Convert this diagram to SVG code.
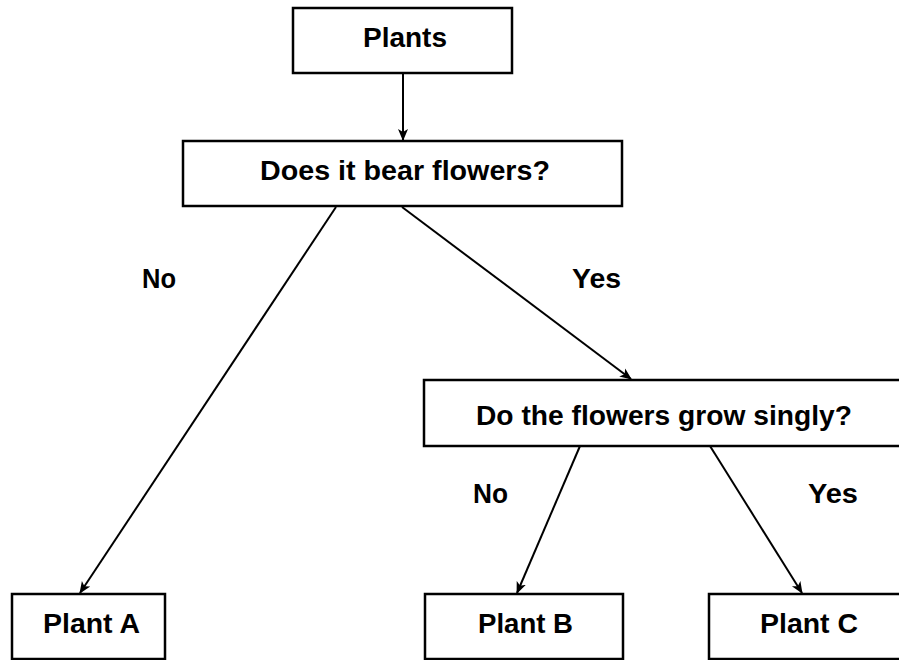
<svg xmlns="http://www.w3.org/2000/svg" width="899" height="660" viewBox="0 0 899 660">
<defs>
<marker id="ah" viewBox="0 0 12 12" refX="11" refY="6" markerWidth="12" markerHeight="12" markerUnits="userSpaceOnUse" orient="auto">
<path d="M0,1 L12,6 L0,11 L3,6 Z" fill="#000"/>
</marker>
</defs>
<style>
.box{fill:#fff;stroke:#000;stroke-width:2.5}
.t{font-family:"Liberation Sans",Arial,sans-serif;font-weight:bold;font-size:27px;fill:#000}
.c{text-anchor:middle}
.ln{stroke:#000;stroke-width:2;fill:none;marker-end:url(#ah)}
</style>
<rect width="899" height="660" fill="#fff"/>
<g id="connectors">
<line class="ln" x1="403" y1="73" x2="403" y2="140"/>
<line class="ln" x1="336" y1="207" x2="80" y2="593"/>
<line class="ln" x1="402" y1="207" x2="631" y2="379"/>
<line class="ln" x1="580" y1="446" x2="517" y2="593"/>
<line class="ln" x1="710" y1="446" x2="802" y2="593"/>
<text class="t" x="142" y="288" textLength="34" lengthAdjust="spacingAndGlyphs">No</text>
<text class="t" x="572" y="288" textLength="49" lengthAdjust="spacingAndGlyphs">Yes</text>
<text class="t" x="473" y="503" textLength="35" lengthAdjust="spacingAndGlyphs">No</text>
<text class="t" x="808" y="503" textLength="50" lengthAdjust="spacingAndGlyphs">Yes</text>
</g>
<g id="plants">
<rect class="box" x="293" y="8" width="219" height="65"/>
<text class="t" x="363" y="47" textLength="84" lengthAdjust="spacingAndGlyphs">Plants</text>
</g>
<g id="flowers">
<rect class="box" x="183" y="141" width="439" height="65"/>
<text class="t" x="260" y="180" textLength="290" lengthAdjust="spacingAndGlyphs">Does it bear flowers?</text>
</g>
<g id="singly">
<rect class="box" x="424" y="380" width="490" height="66"/>
<text class="t" x="476" y="425" textLength="376" lengthAdjust="spacingAndGlyphs">Do the flowers grow singly?</text>
</g>
<g id="plantA">
<rect class="box" x="12" y="594" width="153" height="65"/>
<text class="t" x="43" y="633" textLength="97" lengthAdjust="spacingAndGlyphs">Plant A</text>
</g>
<g id="plantB">
<rect class="box" x="425" y="594" width="198" height="65"/>
<text class="t" x="478" y="633" textLength="95" lengthAdjust="spacingAndGlyphs">Plant B</text>
</g>
<g id="plantC">
<rect class="box" x="709" y="594" width="210" height="65"/>
<text class="t" x="760" y="633" textLength="98" lengthAdjust="spacingAndGlyphs">Plant C</text>
</g>
</svg>
